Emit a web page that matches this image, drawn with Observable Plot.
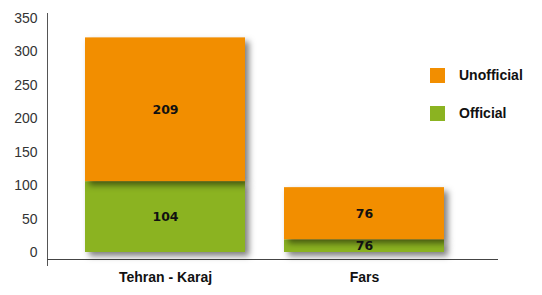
<!DOCTYPE html>
<html>
<head>
<meta charset="utf-8">
<script src="https://cdn.jsdelivr.net/npm/d3@7"></script>
<script src="https://cdn.jsdelivr.net/npm/@observablehq/plot@0.6"></script>
<style>
  body { margin: 0; background: #fff; }
  #wrap { position: relative; width: 542px; height: 295px; font-family: "Liberation Sans", Arial, sans-serif; }
  #wrap svg g[aria-label="bar"] rect { filter: drop-shadow(4px 4px 3px rgba(0,0,0,0.5)); }
  .legend { position: absolute; left: 430px; font-weight: bold; font-size: 14px; color: #111; }
  .legend .sw { position: absolute; left: 0; width: 15px; height: 15px; }
  .legend .lb { position: absolute; left: 29px; white-space: nowrap; line-height: 15px; }
</style>
</head>
<body>
<div id="wrap"></div>
<script>
const regions = ["Tehran - Karaj", "Fars"];
const seriesNames = ["Official", "Unofficial"];
const officialValues = [106, 19];
const unofficialValues = [215, 78];
const officialLabels = ["104", "76"];
const unofficialLabels = ["209", "76"];
const yTicks = [0, 50, 100, 150, 200, 250, 300, 350];
const colors = ["#8bb321", "#f28e00"];

const data = [];
regions.forEach((r, i) => {
  data.push({region: r, type: "Official", value: officialValues[i], label: officialLabels[i]});
  data.push({region: r, type: "Unofficial", value: unofficialValues[i], label: unofficialLabels[i]});
});

const chart = Plot.plot({
  width: 542,
  height: 295,
  marginLeft: 47,
  marginRight: 44,
  marginTop: 13,
  marginBottom: 30,
  style: {fontFamily: "Liberation Sans, Arial, sans-serif", background: "transparent"},
  x: {domain: regions, range: [47, 498], paddingInner: 0.196, paddingOuter: 0.231, align: 0.413, label: null},
  y: {domain: [0, 350], range: [252, 18], label: null},
  color: {domain: seriesNames, range: colors},
  marks: [
    Plot.frame({anchor: "left", stroke: "#555"}),
    Plot.ruleY([0], {dy: 7, stroke: "#444", strokeWidth: 1.2}),
    Plot.barY(data, Plot.stackY({x: "region", y: "value", z: "type", fill: "type", order: seriesNames, inset: 0})),
    Plot.text(data, Plot.stackY({x: "region", y: "value", z: "type", text: "label", order: seriesNames,
      fontFamily: "DejaVu Sans", fontWeight: "bold", fontSize: 12.5, fill: "#111"})),
    Plot.axisY({ticks: yTicks, tickSize: 0, tickPadding: 10, fontSize: 14, fill: "#333", label: null}),
    Plot.axisX({tickSize: 0, tickPadding: 7, fontSize: 14, fontWeight: "bold", fill: "#111", label: null})
  ]
});
const wrap = document.getElementById("wrap");
wrap.appendChild(chart);

[["Unofficial", colors[1], 68], ["Official", colors[0], 106]].forEach(([name, col, top]) => {
  const d = document.createElement("div");
  d.className = "legend";
  d.style.top = top + "px";
  d.innerHTML = `<div class="sw" style="background:${col}"></div><div class="lb">${name}</div>`;
  wrap.appendChild(d);
});
</script>
</body>
</html>
